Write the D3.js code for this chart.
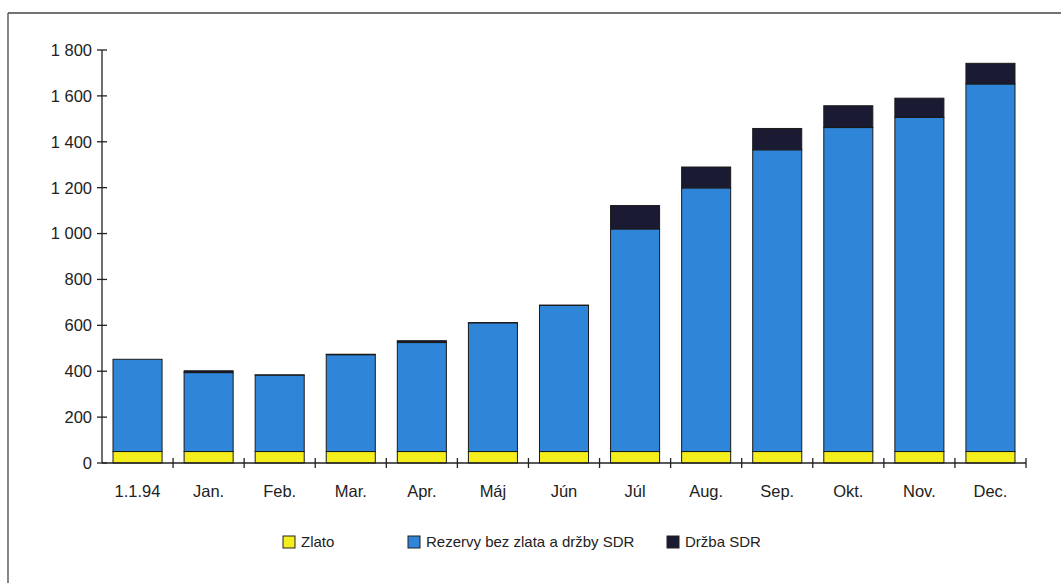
<!DOCTYPE html>
<html>
<head>
<meta charset="utf-8">
<script src="https://cdn.jsdelivr.net/npm/d3@7"></script>
<style>
  html, body { margin: 0; padding: 0; background: #fff; }
  svg { display: block; font-family: "Liberation Sans", Arial, sans-serif; }
</style>
</head>
<body>
<svg id="chart" width="1061" height="583"></svg>
<script>
// Reserves by month (mil. USD), stacked: gold, reserves excluding gold and SDR, SDR holdings
const categories = ["1.1.94", "Jan.", "Feb.", "Mar.", "Apr.", "Máj", "Jún", "Júl", "Aug.", "Sep.", "Okt.", "Nov.", "Dec."];
const zlato   = [50, 50, 50, 50, 50, 50, 50, 50, 50, 50, 50, 50, 50];
const rezervy = [402, 344, 333, 422, 475, 561, 637, 970, 1149, 1315, 1412, 1456, 1602];
const drzba   = [0, 8, 1, 2, 8, 1, 1, 102, 91, 93, 95, 84, 90];
const yTicks  = [0, 200, 400, 600, 800, 1000, 1200, 1400, 1600, 1800];
const seriesNames = ["Zlato", "Rezervy bez zlata a držby SDR", "Držba SDR"];

const colors = ["#f4ee1c", "#2f86d9", "#1a1a33"];

const svg = d3.select("#chart");
const margin = { left: 102, right: 1026, top: 50, bottom: 463 };

// frame lines along the top and left edges
svg.append("line").attr("x1", 8).attr("x2", 1061).attr("y1", 13).attr("y2", 13)
  .attr("stroke", "#444").attr("stroke-width", 1.3);
svg.append("line").attr("x1", 8).attr("x2", 8).attr("y1", 13).attr("y2", 583)
  .attr("stroke", "#444").attr("stroke-width", 1.3);

const x = d3.scaleBand().domain(categories).range([margin.left, margin.right]).paddingInner(0.31).paddingOuter(0.155);
const y = d3.scaleLinear().domain([0, 1800]).range([margin.bottom, margin.top]);

const rows = categories.map((c, i) => ({ cat: c, zlato: zlato[i], rezervy: rezervy[i], drzba: drzba[i] }));
const stack = d3.stack().keys(["zlato", "rezervy", "drzba"]);
const layers = stack(rows);

const g = svg.append("g");
layers.forEach((layer, li) => {
  g.selectAll(null).data(layer).enter().append("rect")
    .attr("x", d => x(d.data.cat))
    .attr("width", x.bandwidth())
    .attr("y", d => y(d[1]))
    .attr("height", d => Math.max(0, y(d[0]) - y(d[1])))
    .attr("fill", colors[li])
    .attr("stroke", "#1a1a1a")
    .attr("stroke-width", 1);
});

// y axis with crossing ticks
const yAxis = svg.append("g");
yAxis.append("line").attr("x1", margin.left).attr("x2", margin.left)
  .attr("y1", y(1800)).attr("y2", y(0)).attr("stroke", "#222").attr("stroke-width", 1.3);
yTicks.forEach(t => {
  yAxis.append("line").attr("x1", margin.left - 5).attr("x2", margin.left + 5)
    .attr("y1", y(t)).attr("y2", y(t)).attr("stroke", "#222").attr("stroke-width", 1.3);
  yAxis.append("text").attr("x", margin.left - 10).attr("y", y(t)).attr("dy", "0.36em")
    .attr("text-anchor", "end").attr("font-size", 16.5).attr("fill", "#222")
    .text(d3.format(",")(t).replace(/,/g, " "));
});

// x axis: ticks at category boundaries
const xAxis = svg.append("g");
xAxis.append("line").attr("x1", margin.left).attr("x2", margin.right)
  .attr("y1", y(0)).attr("y2", y(0)).attr("stroke", "#222").attr("stroke-width", 1.3);
const step = x.step();
categories.forEach((c, i) => {
  const bx = x(c) - (step - x.bandwidth()) / 2 + step;
  xAxis.append("line").attr("x1", bx).attr("x2", bx)
    .attr("y1", y(0) - 5).attr("y2", y(0) + 5).attr("stroke", "#222").attr("stroke-width", 1.3);
  xAxis.append("text").attr("x", x(c) + x.bandwidth() / 2).attr("y", y(0) + 34)
    .attr("text-anchor", "middle").attr("font-size", 16.5).attr("fill", "#222").text(c);
});

// legend
const legendX = [283, 408, 667];
const legend = svg.append("g");
seriesNames.forEach((name, i) => {
  legend.append("rect").attr("x", legendX[i]).attr("y", 536).attr("width", 12).attr("height", 12)
    .attr("fill", colors[i]).attr("stroke", "#222").attr("stroke-width", 1);
  legend.append("text").attr("x", legendX[i] + 18).attr("y", 542).attr("dy", "0.36em")
    .attr("font-size", 15).attr("fill", "#222").text(name);
});
</script>
</body>
</html>
